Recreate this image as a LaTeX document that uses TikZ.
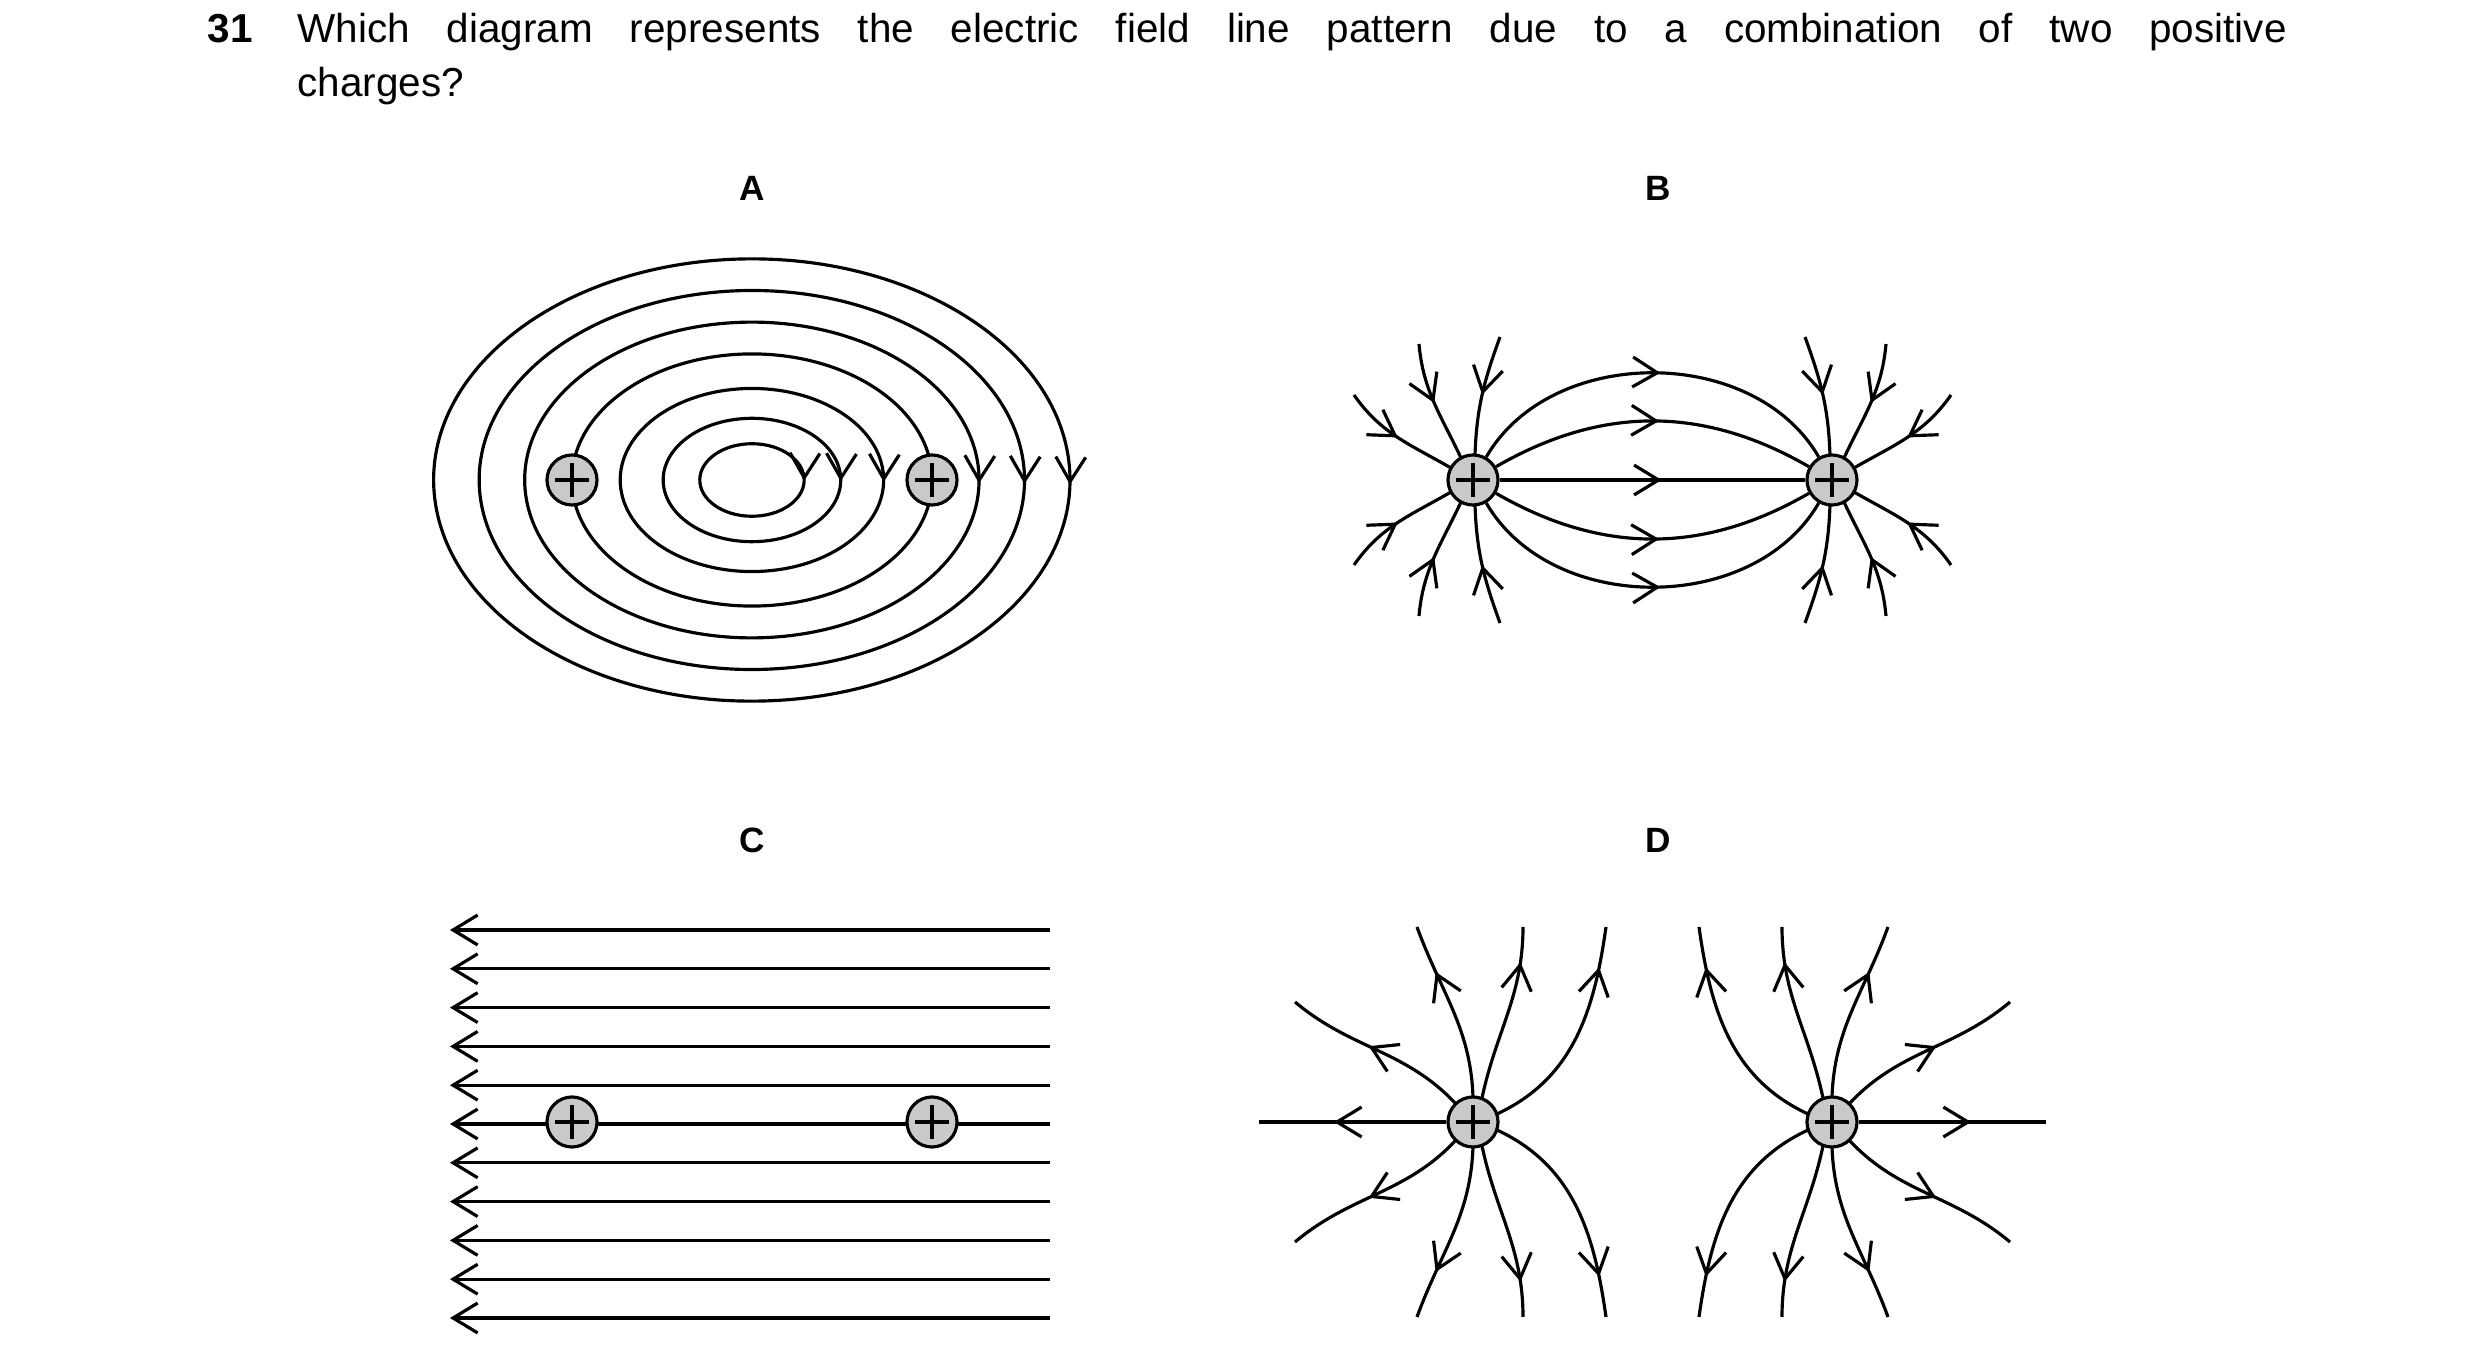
\documentclass[tikz,border=0pt]{standalone}
\usepackage{fontspec}
\setmainfont{Liberation Sans}
\usepackage{xcolor}
\usetikzlibrary{arrows.meta,decorations.markings}

\definecolor{chargegray}{HTML}{C8C9CB}

\tikzset{
  field/.style={line width=0.9pt},
  barb/.tip={Straight Barb[length=7pt,width=8.5pt,line width=0.9pt]},
  tip/.style={decoration={markings, mark=at position #1 with {\arrow{barb}}}, postaction=decorate},
  rtip/.style={decoration={markings, mark=at position #1 with {\arrowreversed{barb}}}, postaction=decorate},
  charge/.style={circle, draw, line width=0.9pt, fill=chargegray, minimum size=0.5cm, inner sep=0pt,
    path picture={
      \draw[line width=0.9pt] ([xshift=-0.17cm]path picture bounding box.center) -- ([xshift=0.17cm]path picture bounding box.center);
      \draw[line width=0.9pt] ([yshift=-0.17cm]path picture bounding box.center) -- ([yshift=0.17cm]path picture bounding box.center);
    }},
  label/.style={font=\bfseries}
}

\begin{document}
\begin{tikzpicture}[x=0.01cm, y=0.01cm, font=\fontsize{11.5}{14}\selectfont]

\useasboundingbox (0,0) rectangle (2480,1366);

% question
\node[anchor=base west, inner sep=0, font=\fontsize{11.5}{14}\selectfont\bfseries] (num) at (207,1323) {31};
\node[anchor=base west, inner sep=0] (line1) at (297,1323) {\makebox[19.88cm][s]{Which diagram represents the electric field line pattern due to a combination of two positive}};
\node[anchor=base west, inner sep=0] (line2) at (297,1269) {charges?};

% labels
\node[label] (labA) at (752,1178) {A};
\node[label] (labB) at (1658,1178) {B};
\node[label] (labC) at (752,526) {C};
\node[label] (labD) at (1658,526) {D};

% A: closed loops
\foreach \f in {0.164,0.279,0.414,0.714,0.857,1}{
  \draw[field, tip=0.014] (752,886) ++({318*\f*cos(5)},{221*\f*sin(5)})
    arc[start angle=5, end angle=-355, x radius={3.18*\f cm}, y radius={2.21*\f cm}];
}
\draw[field] (752,886) ellipse[x radius=1.80cm, y radius=1.26cm];
\node[charge] (qA1) at (572,886) {};
\node[charge] (qA2) at (932,886) {};

% C: uniform lines
\foreach \i in {0,...,10}{
  \pgfmathsetmacro\yy{436-38.8*\i}
  \draw[field, -{barb}] (1050,\yy) -- (450,\yy);
}
\node[charge] (qC1) at (572,244) {};
\node[charge] (qC2) at (932,244) {};

% B
\node[charge] (qB1) at (1473,886) {};
\node[charge] (qB2) at (1832,886) {};
\draw[field, tip=0.53] (qB1) -- (qB2);
\draw[field, tip=0.52] (qB1.60) to[out=60, in=120] (qB2.120);
\draw[field, tip=0.52] (qB1.30) to[out=30, in=150] (qB2.150);
\draw[field, tip=0.52] (qB1.-30) to[out=-30, in=-150] (qB2.-150);
\draw[field, tip=0.52] (qB1.-60) to[out=-60, in=-120] (qB2.-120);
\foreach \cx/\sx in {1473/1,1832/-1}{
  \foreach \sy in {1,-1}{
    \begin{scope}[shift={(\cx,886)}, xscale=\sx, yscale=\sy]
      \draw[field, rtip=0.5] (2,25) to[out=88, in=250] (27,143);
      \draw[field, rtip=0.5] (-12,22) to[out=115, in=275] (-54,136);
      \draw[field, rtip=0.5] (-22,12) to[out=150, in=305] (-119,85);
    \end{scope}
  }
}

% D
\node[charge] (qD1) at (1473,244) {};
\node[charge] (qD2) at (1832,244) {};
\coordinate (endD1) at (1259,244);
\coordinate (endD2) at (2046,244);
\draw[field, tip=0.6] (qD1) -- (endD1);
\draw[field, tip=0.6] (qD2) -- (endD2);
\foreach \cx/\sx in {1473/1,1832/-1}{
  \foreach \sy in {1,-1}{
    \begin{scope}[shift={(\cx,244)}, xscale=\sx, yscale=\sy]
      \draw[field, tip=0.55] (-17,18) to[out=133, in=-40] (-178,120);
      \draw[field, tip=0.73] (0,25) to[out=92, in=-70] (-56,195);
      \draw[field, tip=0.8] (9,24) to[out=78, in=-90] (50,195);
      \draw[field, tip=0.82] (24,8) to[out=25, in=-98] (133,195);
    \end{scope}
  }
}

\end{tikzpicture}
\end{document}
